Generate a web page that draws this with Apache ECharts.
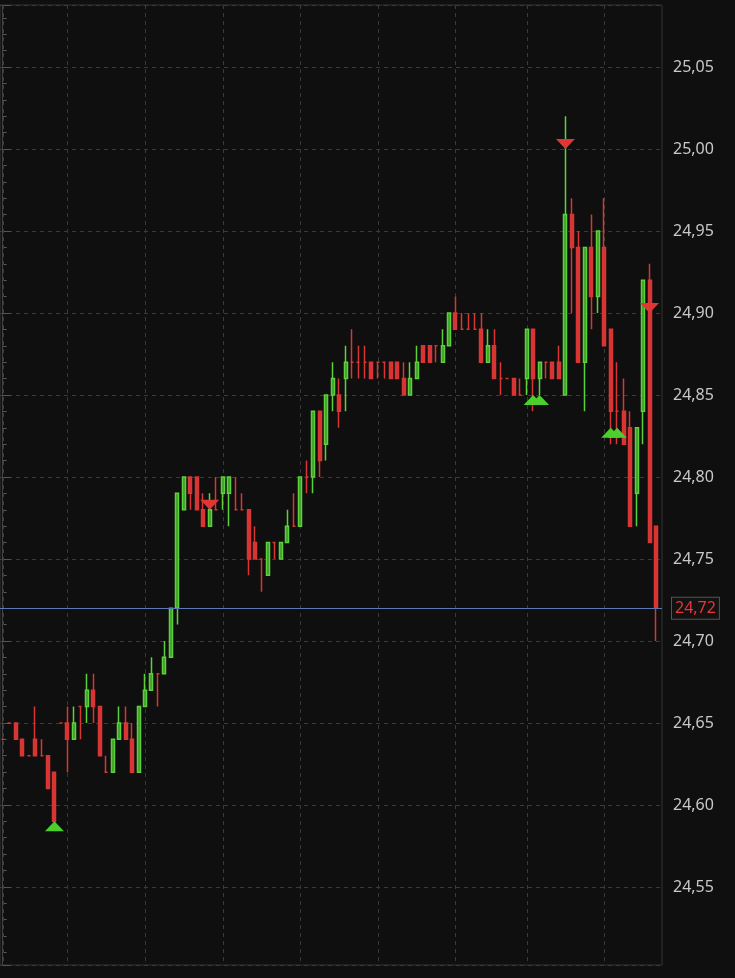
<!DOCTYPE html>
<html>
<head>
<meta charset="utf-8">
<script src="https://cdn.jsdelivr.net/npm/echarts@6/dist/echarts.min.js"></script>
<style>
html, body { margin: 0; padding: 0; background: #0f0f0f; }
#chart { width: 735px; height: 978px; }
</style>
</head>
<body>
<div id="chart"></div>
<script>
// bars: [open, close, low, high], one per bar, left to right
const bars = [
    [24.64, 24.64, 24.64, 24.64], [24.65, 24.65, 24.65, 24.65], [24.65, 24.64, 24.64, 24.65], [24.64, 24.63, 24.63, 24.64],
    [24.63, 24.63, 24.63, 24.63], [24.64, 24.63, 24.63, 24.66], [24.63, 24.63, 24.63, 24.64], [24.63, 24.61, 24.61, 24.63],
    [24.62, 24.59, 24.59, 24.62], [24.65, 24.65, 24.65, 24.65], [24.65, 24.64, 24.62, 24.66], [24.64, 24.65, 24.64, 24.66],
    [24.66, 24.66, 24.64, 24.66], [24.66, 24.67, 24.65, 24.68], [24.67, 24.66, 24.65, 24.68], [24.66, 24.63, 24.63, 24.66],
    [24.62, 24.62, 24.62, 24.63], [24.62, 24.64, 24.62, 24.64], [24.64, 24.65, 24.64, 24.66], [24.65, 24.64, 24.64, 24.66],
    [24.64, 24.62, 24.62, 24.65], [24.62, 24.66, 24.62, 24.66], [24.66, 24.67, 24.66, 24.68], [24.67, 24.68, 24.67, 24.69],
    [24.68, 24.68, 24.66, 24.68], [24.68, 24.69, 24.68, 24.70], [24.69, 24.72, 24.69, 24.72], [24.72, 24.79, 24.71, 24.79],
    [24.78, 24.80, 24.78, 24.80], [24.80, 24.79, 24.78, 24.80], [24.80, 24.78, 24.78, 24.80], [24.78, 24.77, 24.77, 24.79],
    [24.77, 24.78, 24.77, 24.79], [24.78, 24.78, 24.78, 24.80], [24.79, 24.80, 24.78, 24.80], [24.79, 24.80, 24.77, 24.80],
    [24.78, 24.78, 24.78, 24.80], [24.78, 24.78, 24.78, 24.79], [24.78, 24.75, 24.74, 24.78], [24.76, 24.75, 24.75, 24.77],
    [24.75, 24.75, 24.73, 24.75], [24.74, 24.76, 24.74, 24.76], [24.76, 24.76, 24.75, 24.76], [24.75, 24.76, 24.75, 24.76],
    [24.76, 24.77, 24.76, 24.78], [24.77, 24.77, 24.77, 24.79], [24.77, 24.80, 24.77, 24.80], [24.80, 24.80, 24.79, 24.81],
    [24.80, 24.84, 24.79, 24.84], [24.84, 24.81, 24.80, 24.84], [24.82, 24.85, 24.81, 24.85], [24.85, 24.86, 24.84, 24.87],
    [24.85, 24.84, 24.83, 24.86], [24.86, 24.87, 24.84, 24.88], [24.87, 24.87, 24.86, 24.89], [24.87, 24.87, 24.86, 24.88],
    [24.87, 24.87, 24.86, 24.88], [24.87, 24.86, 24.86, 24.87], [24.87, 24.87, 24.86, 24.87], [24.87, 24.87, 24.86, 24.87],
    [24.87, 24.86, 24.86, 24.87], [24.87, 24.86, 24.86, 24.87], [24.86, 24.85, 24.85, 24.87], [24.85, 24.86, 24.85, 24.87],
    [24.86, 24.87, 24.86, 24.88], [24.88, 24.87, 24.87, 24.88], [24.88, 24.87, 24.87, 24.88], [24.88, 24.88, 24.87, 24.88],
    [24.87, 24.88, 24.87, 24.89], [24.88, 24.90, 24.88, 24.90], [24.90, 24.89, 24.89, 24.91], [24.89, 24.89, 24.89, 24.90],
    [24.89, 24.89, 24.89, 24.90], [24.89, 24.89, 24.89, 24.90], [24.89, 24.87, 24.87, 24.90], [24.87, 24.88, 24.87, 24.89],
    [24.88, 24.86, 24.86, 24.89], [24.86, 24.86, 24.85, 24.87], [24.86, 24.86, 24.86, 24.86], [24.86, 24.85, 24.85, 24.86],
    [24.85, 24.85, 24.85, 24.86], [24.86, 24.89, 24.85, 24.89], [24.89, 24.86, 24.84, 24.89], [24.86, 24.87, 24.85, 24.87],
    [24.87, 24.87, 24.86, 24.87], [24.87, 24.86, 24.86, 24.87], [24.87, 24.86, 24.86, 24.88], [24.85, 24.96, 24.85, 25.02],
    [24.96, 24.94, 24.90, 24.97], [24.94, 24.87, 24.87, 24.95], [24.87, 24.94, 24.84, 24.94], [24.94, 24.91, 24.89, 24.96],
    [24.91, 24.95, 24.90, 24.95], [24.94, 24.88, 24.88, 24.97], [24.89, 24.84, 24.82, 24.89], [24.84, 24.84, 24.82, 24.87],
    [24.84, 24.82, 24.82, 24.86], [24.83, 24.77, 24.77, 24.84], [24.79, 24.83, 24.77, 24.83], [24.84, 24.92, 24.82, 24.92],
    [24.92, 24.76, 24.76, 24.93], [24.77, 24.72, 24.70, 24.77]
];
// bar indexes where the hour separators are drawn
const hourMarks = [0, 10, 22, 34, 46, 58, 70, 81, 93];
// signals: [bar index, price]
const buySignals = [[8, 24.59], [82, 24.85], [83, 24.85], [94, 24.83], [95, 24.83]];
const sellSignals = [[32, 24.78], [87, 25.00], [100, 24.90]];
const lastPrice = 24.72;

const UP = '#5cd13a', UP_FILL = '#3f962b', DOWN = '#d83535';
const GRID_COLOR = '#3a3a3a';
const yMin = 24.5024, yMax = 25.0878;

function fmt(v) {
    return v.toFixed(2).replace('.', ',');
}

const chart = echarts.init(document.getElementById('chart'));
chart.setOption({
    animation: false,
    backgroundColor: '#0f0f0f',
    grid: {
        left: 0, right: 73, top: 5, bottom: 13,
        show: true,
        borderColor: '#353535',
        borderWidth: 1
    },
    xAxis: {
        type: 'value',
        min: -0.42,
        max: 101.93,
        show: false
    },
    yAxis: {
        type: 'value',
        position: 'right',
        min: yMin,
        max: yMax,
        splitNumber: 12,
        axisLine: { show: true, lineStyle: { color: '#454545' } },
        axisTick: { show: true, length: 8, lineStyle: { color: '#555' } },
        minorTick: { show: true, splitNumber: 5, length: 4, lineStyle: { color: '#555' } },
        axisLabel: {
            color: '#c8c8c8',
            fontSize: 16,
            fontFamily: 'Noto Sans',
            margin: 11,
            formatter: function (v) {
                // only label the 0.05 steps
                return Math.abs(v * 20 - Math.round(v * 20)) < 1e-6 ? fmt(v) : '';
            }
        },
        splitLine: { show: true, lineStyle: { color: GRID_COLOR, type: [4, 4] } }
    },
    series: [
        {
            // hour separators, drawn behind the candles
            type: 'custom',
            z: 1,
            silent: true,
            data: hourMarks.map(k => [k]),
            encode: { x: 0 },
            renderItem: function (params, api) {
                const top = api.coord([api.value(0), yMax]);
                const bottom = api.coord([api.value(0), yMin]);
                const x = Math.round(top[0]) + 0.5;
                return {
                    type: 'line',
                    shape: { x1: x, y1: top[1], x2: x, y2: bottom[1] },
                    style: { stroke: GRID_COLOR, lineWidth: 1, lineDash: [4, 4] }
                };
            }
        },
        {
            type: 'candlestick',
            z: 2,
            barWidth: 3.5,
            data: bars.map((b, i) => [i, b[0], b[1], b[2], b[3]]),
            encode: { x: 0, y: [1, 2, 3, 4] },
            itemStyle: {
                color: UP_FILL,
                color0: DOWN,
                borderColor: UP,
                borderColor0: DOWN,
                borderColorDoji: DOWN,
                borderWidth: 1.5
            },
            emphasis: { disabled: true },
            markLine: {
                silent: true,
                symbol: 'none',
                animation: false,
                data: [{ yAxis: lastPrice }],
                lineStyle: { color: '#5a78b4', width: 1, type: 'solid' },
                label: {
                    position: 'end',
                    distance: 10,
                    formatter: fmt(lastPrice),
                    color: '#e8353a',
                    fontSize: 16,
                    fontFamily: 'Noto Sans',
                    backgroundColor: '#121212',
                    borderColor: '#555',
                    borderWidth: 1,
                    padding: [3, 3, 2, 3]
                },
                emphasis: { disabled: true }
            }
        },
        {
            type: 'scatter',
            z: 4,
            silent: true,
            symbol: 'triangle',
            symbolSize: [19, 10],
            symbolOffset: [0, 5],
            data: buySignals,
            itemStyle: { color: '#4ccf2c', opacity: 1 }
        },
        {
            type: 'scatter',
            z: 4,
            silent: true,
            symbol: 'triangle',
            symbolRotate: 180,
            symbolSize: [19, 10],
            symbolOffset: [0, -5],
            data: sellSignals,
            itemStyle: { color: '#e03636', opacity: 1 }
        }
    ]
});
</script>
</body>
</html>
